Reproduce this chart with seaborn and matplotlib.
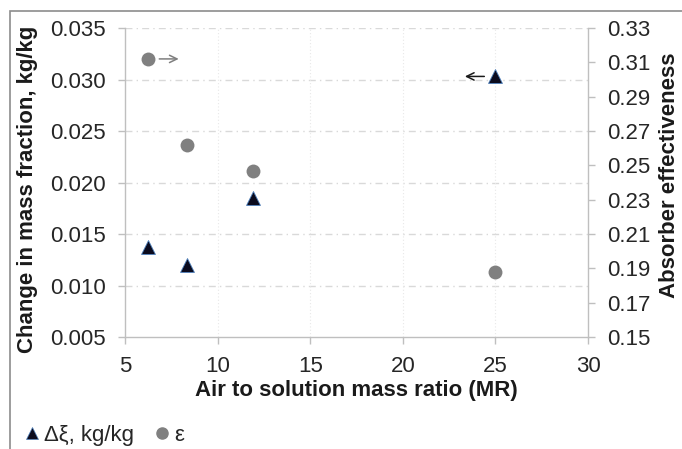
import numpy as np
import pandas as pd
import matplotlib
matplotlib.use('Agg')
import matplotlib.pyplot as plt
import seaborn as sns
from matplotlib.patches import Rectangle
from matplotlib.lines import Line2D

# data
mass_ratio = [6.25, 8.33, 11.9, 25.0]
delta_xi = [0.0137, 0.0120, 0.0185, 0.0303]
effectiveness = [0.312, 0.262, 0.247, 0.188]

left_ticks = [0.005, 0.010, 0.015, 0.020, 0.025, 0.030, 0.035]
right_ticks = [0.15, 0.17, 0.19, 0.21, 0.23, 0.25, 0.27, 0.29, 0.31, 0.33]
x_ticks = [5, 10, 15, 20, 25, 30]

sns.set_theme(style='white')
plt.rcParams['font.family'] = ['Liberation Sans', 'DejaVu Sans']

df = pd.DataFrame({'MR': mass_ratio, 'dxi': delta_xi, 'eps': effectiveness})

fig = plt.figure(figsize=(6.82, 4.49), dpi=100)
ax = fig.add_axes([0.1833, 0.2494, 0.8622 - 0.1833, 0.9376 - 0.2494])
ax2 = ax.twinx()

grey_axis = '#bfbfbf'
tri_color = '#0b0b1e'
dot_color = '#808080'
FS = 16

sns.scatterplot(data=df, x='MR', y='dxi', ax=ax, marker='^', s=100,
                color=tri_color, edgecolor='#4f81bd', linewidth=0.6, zorder=4)
sns.scatterplot(data=df, x='MR', y='eps', ax=ax2, marker='o', s=100,
                color=dot_color, edgecolor=dot_color, linewidth=0, zorder=4)

ax.set_xlim(x_ticks[0], x_ticks[-1])
ax.set_ylim(left_ticks[0], left_ticks[-1])
ax2.set_ylim(right_ticks[0], right_ticks[-1])
ax.set_xticks(x_ticks)
ax.set_yticks(left_ticks)
ax2.set_yticks(right_ticks)
ax.set_xticklabels([str(v) for v in x_ticks])
ax.set_yticklabels([f'{v:.3f}' for v in left_ticks])
ax2.set_yticklabels([f'{v:.2f}' for v in right_ticks])

# gridlines: dash-dot horizontals, faint dotted verticals
for v in left_ticks[1:]:
    ax.axhline(v, color='#d9d9d9', lw=1, ls=(0, (5, 3, 1, 3)), zorder=0)
for v in x_ticks[1:-1]:
    ax.axvline(v, color='#e8e8e8', lw=0.8, ls=(0, (1, 2)), zorder=0)

for a in (ax, ax2):
    for side in ('left', 'right', 'bottom', 'top'):
        a.spines[side].set_visible(False)
ax.spines['left'].set_visible(True)
ax.spines['bottom'].set_visible(True)
ax2.spines['right'].set_visible(True)
for sp in (ax.spines['left'], ax.spines['bottom'], ax2.spines['right']):
    sp.set_color(grey_axis)
    sp.set_linewidth(1)

ax.tick_params(axis='both', which='major', direction='out', length=5, width=1,
               color=grey_axis, labelsize=FS, labelcolor='#262626', pad=9,
               left=True, bottom=True)
ax2.tick_params(axis='y', direction='out', length=5, width=1, color=grey_axis,
                labelsize=FS, labelcolor='#262626', pad=9, right=True)

ax.set_xlabel('Air to solution mass ratio (MR)', fontsize=16,
              fontweight='bold', color='#1a1a1a', labelpad=2)
ax.set_ylabel('Change in mass fraction, kg/kg', fontsize=16,
              fontweight='bold', color='#1a1a1a')
ax2.set_ylabel('Absorber effectiveness', fontsize=16,
               fontweight='bold', color='#1a1a1a')
ax.yaxis.set_label_coords(-0.189, 0.479)
ax2.yaxis.set_label_coords(1.153, 0.524)

# arrows showing which axis each series uses
ax2.annotate('', xy=(mass_ratio[0], effectiveness[0]), xytext=(22, 0),
             textcoords='offset points',
             arrowprops=dict(arrowstyle='<-, head_length=0.45, head_width=0.22',
                             color='#7f7f7f', lw=1.1, shrinkA=0, shrinkB=8))
ax.annotate('', xy=(mass_ratio[-1], delta_xi[-1]), xytext=(-22, 0),
            textcoords='offset points',
            arrowprops=dict(arrowstyle='<-, head_length=0.45, head_width=0.22',
                            color='#1a1a1a', lw=1.1, shrinkA=0, shrinkB=8))

handles = [
    Line2D([], [], marker='^', ls='', color=tri_color, markeredgecolor='#4f81bd',
           markeredgewidth=0.5, markersize=8),
    Line2D([], [], marker='o', ls='', color=dot_color, markersize=8),
]
fig.legend(handles, ['Δξ, kg/kg', 'ε'], loc='center left',
           bbox_to_anchor=(0.035, 0.03), ncol=2, frameon=False,
           fontsize=16, handlelength=0.7, handletextpad=0.2,
           columnspacing=0.9, borderaxespad=0, borderpad=0)

# outer chart frame (top and left edges visible)
fig.patches.append(Rectangle((10 / 682, -0.2), 1.2, 1.2 - 11 / 449,
                             transform=fig.transFigure, fill=False,
                             edgecolor='#8c8c8c', lw=1.2))

fig.savefig('out.png', dpi=100)
